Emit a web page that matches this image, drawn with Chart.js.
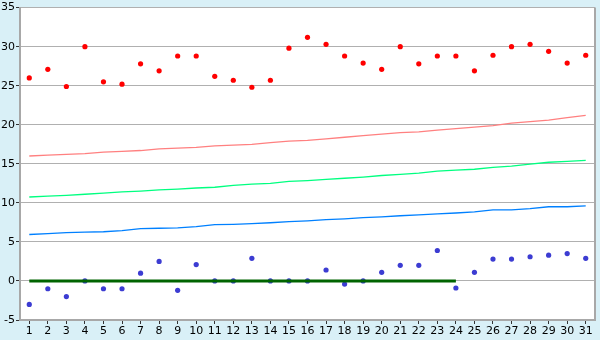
<!DOCTYPE html>
<html>
<head>
<meta charset="utf-8">
<script src="https://cdn.jsdelivr.net/npm/chart.js"></script>
<style>
  html, body { margin: 0; padding: 0; background: #d9f0f7; }
  #wrap { width: 600px; height: 340px; }
</style>
</head>
<body>
<div id="wrap"><canvas id="chart" width="600" height="340"></canvas></div>
<script>
// day of month
const days = Array.from({ length: 31 }, (_, i) => String(i + 1));

// upper scatter (red)
const highValues = [26.0, 27.1, 24.9, 30.0, 25.5, 25.2, 27.8, 26.9, 28.8, 28.8,
                    26.2, 25.7, 24.8, 25.7, 29.8, 31.2, 30.3, 28.8, 27.9, 27.1,
                    30.0, 27.8, 28.8, 28.8, 26.9, 28.9, 30.0, 30.3, 29.4, 27.9, 28.9];

// lower scatter (blue)
const lowValues = [-3.0, -1.0, -2.0, 0.0, -1.0, -1.0, 1.0, 2.5, -1.2, 2.1,
                   0.0, 0.0, 2.9, 0.0, 0.0, 0.0, 1.4, -0.4, 0.0, 1.1,
                   2.0, 2.0, 3.9, -0.9, 1.1, 2.8, 2.8, 3.1, 3.3, 3.5, 2.9];

// trend lines
const redTrend = [16.0, 16.1, 16.2, 16.3, 16.5, 16.6, 16.7, 16.9, 17.0, 17.1,
                  17.3, 17.4, 17.5, 17.7, 17.9, 18.0, 18.2, 18.4, 18.6, 18.8,
                  19.0, 19.1, 19.3, 19.5, 19.7, 19.9, 20.2, 20.4, 20.6, 20.9, 21.2];
const greenTrend = [10.75, 10.85, 10.95, 11.1, 11.25, 11.4, 11.5, 11.65, 11.75, 11.9,
                    12.0, 12.25, 12.4, 12.5, 12.75, 12.85, 13.0, 13.15, 13.3, 13.5,
                    13.65, 13.8, 14.05, 14.2, 14.3, 14.55, 14.7, 14.95, 15.2, 15.3, 15.45];
const blueTrend = [5.95, 6.05, 6.2, 6.25, 6.3, 6.45, 6.7, 6.75, 6.8, 6.95,
                   7.2, 7.25, 7.35, 7.45, 7.6, 7.7, 7.85, 7.95, 8.1, 8.2,
                   8.35, 8.45, 8.6, 8.7, 8.85, 9.1, 9.1, 9.25, 9.5, 9.5, 9.6];

// zero reference (days 1-24)
const zeroLine = [0, 0, 0, 0, 0, 0, 0, 0, 0, 0, 0, 0, 0, 0, 0, 0, 0, 0, 0, 0, 0, 0, 0, 0,
                  null, null, null, null, null, null, null];

const plotBg = {
    id: 'plotBg',
    beforeDraw(chart) {
        const { ctx, chartArea: a } = chart;
        ctx.save();
        ctx.fillStyle = '#ffffff';
        ctx.fillRect(a.left, a.top, a.right - a.left, a.bottom - a.top);
        ctx.restore();
    },
    afterDatasetsDraw(chart) {
        const { ctx, chartArea: a } = chart;
        ctx.save();
        ctx.strokeStyle = '#a8a8a8';
        ctx.lineWidth = 2;
        ctx.beginPath();
        ctx.moveTo(a.right, a.top);
        ctx.lineTo(a.right, a.bottom);
        ctx.stroke();
        ctx.restore();
    }
};

const lineDs = (data, color, width) => ({
    type: 'line', data, borderColor: color, borderWidth: width,
    pointRadius: 0, fill: false, tension: 0, spanGaps: false
});
const pointDs = (data, color) => ({
    type: 'line', data, showLine: false, borderColor: color, backgroundColor: color,
    pointStyle: 'circle', pointRadius: 2.6, pointBorderWidth: 0
});

new Chart(document.getElementById('chart'), {
    type: 'line',
    data: {
        labels: days,
        datasets: [
            lineDs(zeroLine, '#006400', 3),
            lineDs(redTrend, '#ff8080', 1.3),
            lineDs(greenTrend, '#00ff80', 1.3),
            lineDs(blueTrend, '#0080ff', 1.3),
            pointDs(highValues, '#ff0000'),
            pointDs(lowValues, '#3c3cd2')
        ]
    },
    options: {
        responsive: false,
        animation: false,
        layout: { padding: { top: 5, right: 5, left: 0, bottom: 0 } },
        plugins: { legend: { display: false }, tooltip: { enabled: false } },
        scales: {
            x: {
                offset: true,
                grid: { display: true, drawOnChartArea: false, offset: false, tickLength: 4, color: '#333333' },
                border: { color: '#a8a8a8', width: 2 },
                ticks: { color: '#000000', font: { family: 'DejaVu Sans', size: 11 }, maxRotation: 0, autoSkip: false, padding: 1 },
                afterFit(s) { s.height = 20; }
            },
            y: {
                min: -5, max: 35,
                grid: { color: '#b0b0b0', lineWidth: 1, tickLength: 4, tickColor: '#333333' },
                border: { color: '#a8a8a8', width: 2 },
                ticks: { stepSize: 5, color: '#000000', font: { family: 'DejaVu Sans', size: 11 }, padding: 1 },
                afterFit(s) { s.width = 20; }
            }
        }
    },
    plugins: [plotBg]
});
</script>
</body>
</html>
